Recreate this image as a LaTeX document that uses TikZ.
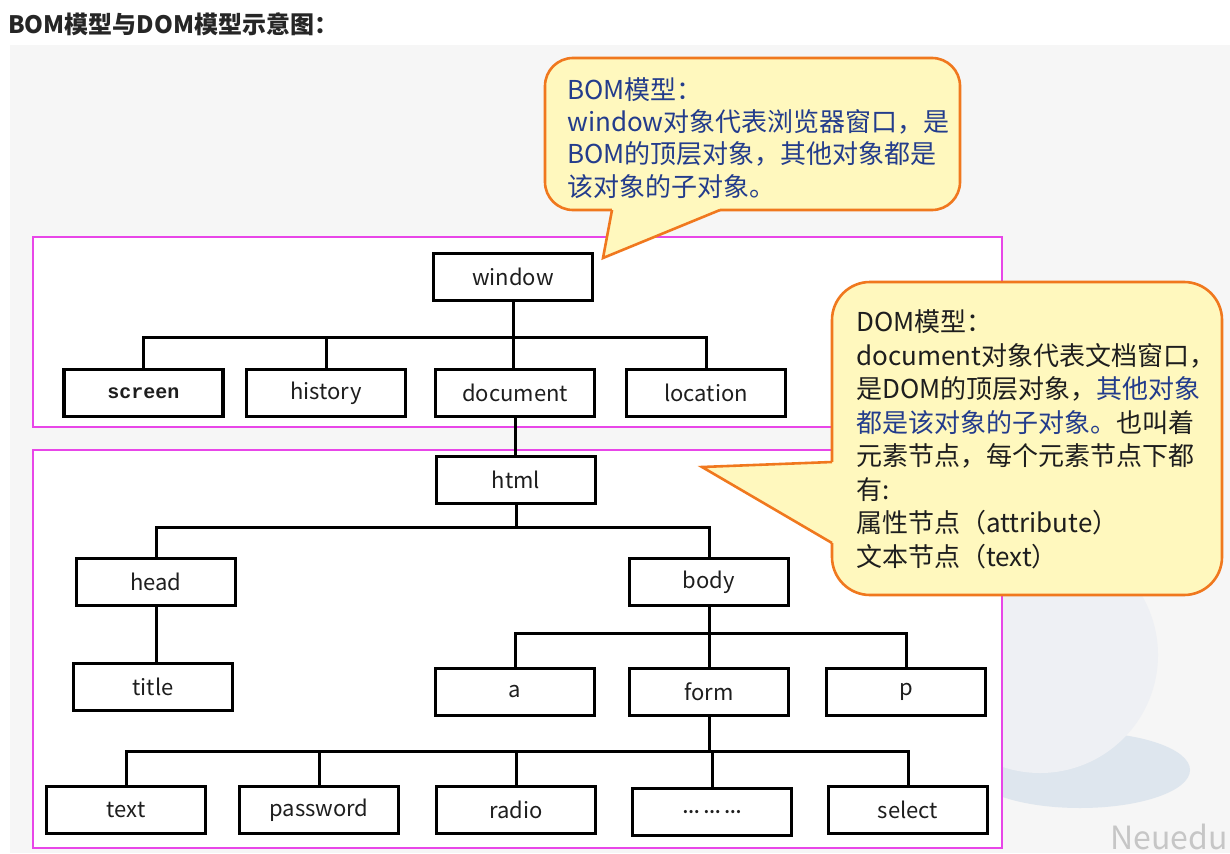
\documentclass[tikz,border=0pt]{standalone}
\usepackage{fontspec}
\setmainfont{Noto Sans CJK SC}
\newfontfamily\monof{Liberation Mono}
\definecolor{mag}{RGB}{232,70,232}
\definecolor{org}{RGB}{240,120,30}
\definecolor{cfill}{RGB}{255,248,190}
\definecolor{navy}{RGB}{35,60,140}
\definecolor{bgc}{RGB}{246,246,246}
\definecolor{ink}{RGB}{30,30,30}
\definecolor{plate}{RGB}{222,230,238}
\definecolor{globe}{RGB}{238,240,244}
\begin{document}
\begin{tikzpicture}[x=1pt,y=-1pt,
 box/.style={draw=black,line width=3.3pt,fill=white,minimum width=159pt,minimum height=47pt,inner sep=0,text=ink,font=\fontsize{22}{26}\selectfont},
 conn/.style={line width=3pt},
 frame/.style={draw=mag,line width=1.8pt,fill=white},
 callout/.style={draw=org,line width=2.6pt,fill=cfill},
 ctext/.style={anchor=base west,inner sep=0,font=\fontsize{26}{26}\selectfont},
]
\useasboundingbox (0,0) rectangle (1230,853);
\fill[white] (0,0) rectangle (1230,853);
\fill[bgc] (10,45) rectangle (1230,853);
% faint globe watermark
\begin{scope}
\clip (1003,596) rectangle (1230,853);
\fill[plate] (1080,770) ellipse (110 and 38);
\fill[globe] (1040,655) circle (118);
\end{scope}
\node[anchor=base west,inner sep=0,font=\fontsize{32}{32}\selectfont,text=gray!45] (wm) at (1110,849) {Neuedu};
% title
\node[anchor=base west,inner sep=0,font=\fontsize{24}{24}\selectfont\bfseries,text=black!85] (ttl) at (8,34) {BOM模型与DOM模型示意图：};
% frames
\draw[frame] (33,237) rectangle (1002,427);
\draw[frame] (33,450) rectangle (1002,848);
% boxes
\node[box] (window) at (513,277) {window};
\node[box,font=\monof\bfseries\fontsize{20}{24}\selectfont] (screen) at (143.5,393) {screen};
\node[box] (history) at (326,393) {history};
\node[box] (document) at (515,393) {document};
\node[box] (location) at (706,393) {location};
\node[box] (html) at (516,480) {html};
\node[box] (head) at (156,582) {head};
\node[box] (body) at (709,582) {body};
\node[box] (title) at (153,687) {title};
\node[box] (a) at (515,692) {a};
\node[box] (form) at (709,692) {form};
\node[box] (p) at (906,692) {p};
\node[box] (text) at (126,810) {text};
\node[box] (password) at (319,810) {password};
\node[box] (radio) at (516,810) {radio};
\node[box] (dots) at (712,812) {\fontsize{15}{18}\selectfont\bfseries …\hspace{4pt}…\hspace{4pt}…};
\node[box] (select) at (908,810) {select};
% connectors
\coordinate (bb) at (0,337);
\coordinate (hb) at (0,527);
\coordinate (db) at (0,633);
\coordinate (fb) at (0,751);
\draw[conn] (window.south) -- (window.south |- document.north);
\draw[conn] (screen.north) -- (screen.north |- bb) -- (location.north |- bb) -- (location.north);
\draw[conn] (history.north) -- (history.north |- bb);
\draw[conn] (document.south) -- (document.south |- html.north);
\draw[conn] (html.south) -- (html.south |- hb);
\draw[conn] (head.north) -- (head.north |- hb) -- (body.north |- hb) -- (body.north);
\draw[conn] (head.south) -- (head.south |- title.north);
\draw[conn] (body.south) -- (form.north);
\draw[conn] (a.north) -- (a.north |- db) -- (p.north |- db) -- (p.north);
\draw[conn] (form.south) -- (form.south |- fb);
\draw[conn] (text.north) -- (text.north |- fb) -- (select.north |- fb) -- (select.north);
\draw[conn] (password.north) -- (password.north |- fb);
\draw[conn] (radio.north) -- (radio.north |- fb);
\draw[conn] (dots.north) -- (dots.north |- fb);
% BOM callout
\draw[callout,rounded corners=28] (545,58) rectangle (960,210);
\fill[cfill] (612.5,206) -- (719.5,206) -- (720,210) -- (603,258) -- (612,210) -- cycle;
\draw[org,line width=2.6pt] (612,210) -- (603,258) -- (720,210);
\node[ctext,text=navy] (b1) at (567,100) {BOM模型：};
\node[ctext,text=navy] (b2) at (567,132) {window对象代表浏览器窗口，是};
\node[ctext,text=navy] (b3) at (567,164) {BOM的顶层对象，其他对象都是};
\node[ctext,text=navy] (b4) at (567,196) {该对象的子对象。};
% DOM callout
\draw[callout,rounded corners=38] (832,282) rectangle (1222,595);
\fill[cfill] (836,462.5) -- (836,542.5) -- (832,543) -- (702,467) -- (832,462) -- cycle;
\draw[org,line width=2.6pt] (832,462) -- (702,467) -- (832,543);
\node[ctext,text=ink] (d1) at (856,331) {DOM模型：};
\node[ctext,text=ink] (d2) at (856,365) {document对象代表文档窗口，};
\node[ctext,text=ink] (d3) at (856,398) {是DOM的顶层对象，\textcolor{navy}{其他对象}};
\node[ctext,text=ink] (d4) at (856,432) {\textcolor{navy}{都是该对象的子对象。}也叫着};
\node[ctext,text=ink] (d5) at (856,465) {元素节点，每个元素节点下都};
\node[ctext,text=ink] (d6) at (856,499) {有:};
\node[ctext,text=ink] (d7) at (856,532) {属性节点（attribute）};
\node[ctext,text=ink] (d8) at (856,566) {文本节点（text）};
\end{tikzpicture}
\end{document}
